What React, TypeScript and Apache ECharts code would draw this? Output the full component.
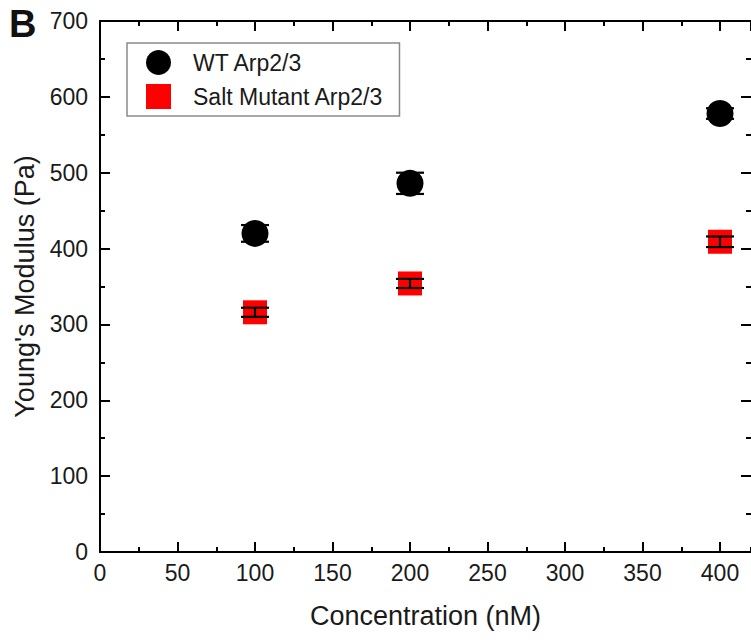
import React, { useEffect, useRef } from "react";
import * as echarts from "echarts";

const concentrations = [100, 200, 400];
const wtMean = [420, 486, 578];
const wtErr = [11, 14, 7];
const saltMean = [316, 354, 409];
const saltErr = [6, 6, 7];
const seriesNames = ["WT Arp2/3", "Salt Mutant Arp2/3"];

const FONT = "'Liberation Sans', Arial, Helvetica, sans-serif";
const TEXT = "#1a1a1a";

function errData(mean: number[], err: number[]) {
  return concentrations.map((c, i) => [c, mean[i], mean[i] - err[i], mean[i] + err[i]]);
}

function errorRender(params: any, api: any) {
  const x = api.value(0);
  const lo = api.coord([x, api.value(2)]);
  const hi = api.coord([x, api.value(3)]);
  const half = 14;
  const st = { stroke: "#000", lineWidth: 2.2 };
  return {
    type: "group",
    children: [
      { type: "line", shape: { x1: lo[0], y1: lo[1], x2: hi[0], y2: hi[1] }, style: st },
      { type: "line", shape: { x1: lo[0] - half, y1: lo[1], x2: lo[0] + half, y2: lo[1] }, style: st },
      { type: "line", shape: { x1: hi[0] - half, y1: hi[1], x2: hi[0] + half, y2: hi[1] }, style: st },
    ],
  };
}

export default function App() {
  const ref = useRef<HTMLDivElement>(null);
  useEffect(() => {
    if (!ref.current) return;
    const chart = echarts.init(ref.current, null, { renderer: "svg" });
    const axisLine = { show: true, onZero: false, lineStyle: { color: "#000", width: 2 } };
    const noLine = { show: false, onZero: false };
    const majorX = (pos: string, labels: boolean) => ({
      type: "value",
      position: pos,
      min: 0,
      max: 420,
      interval: 50,
      axisLine,
      axisTick: { show: true, inside: true, length: 10, lineStyle: { color: "#000", width: 2 } },
      axisLabel: labels
        ? { show: true, showMaxLabel: false, fontSize: 23, color: TEXT, fontFamily: FONT, margin: 9 }
        : { show: false },
      splitLine: { show: false },
      name: labels ? "Concentration (nM)" : "",
      nameLocation: "middle",
      nameGap: 50,
      nameTextStyle: { fontSize: 27, color: TEXT, fontFamily: FONT },
    });
    const minorX = (pos: string) => ({
      type: "value",
      position: pos,
      min: 0,
      max: 420,
      interval: 25,
      axisLine: noLine,
      axisTick: { show: true, inside: true, length: 5, lineStyle: { color: "#000", width: 2 } },
      axisLabel: { show: false },
      splitLine: { show: false },
    });
    const majorY = (pos: string, labels: boolean) => ({
      type: "value",
      position: pos,
      min: 0,
      max: 700,
      interval: 100,
      axisLine: labels ? axisLine : noLine,
      axisTick: { show: true, inside: true, length: 10, lineStyle: { color: "#000", width: 2 } },
      minorTick: { show: true, splitNumber: 2, length: 5, lineStyle: { color: "#000", width: 2 } },
      axisLabel: labels
        ? { show: true, fontSize: 23, color: TEXT, fontFamily: FONT, margin: 12 }
        : { show: false },
      splitLine: { show: false },
      minorSplitLine: { show: false },
      name: labels ? "Young's Modulus (Pa)" : "",
      nameLocation: "middle",
      nameGap: 58,
      nameTextStyle: { fontSize: 27, color: TEXT, fontFamily: FONT },
    });
    chart.setOption({
      animation: false,
      backgroundColor: "#fff",
      grid: { left: 100, right: 0, top: 21, bottom: 88, containLabel: false },
      xAxis: [majorX("bottom", true), minorX("bottom"), majorX("top", false), minorX("top")],
      yAxis: [majorY("left", true), majorY("right", false)],
      legend: {
        orient: "vertical",
        left: 127,
        top: 43,
        padding: [7, 16, 7, 19],
        itemGap: 9,
        itemWidth: 25,
        itemHeight: 25,
        borderColor: "#8a8a8a",
        borderWidth: 1.5,
        textStyle: { fontSize: 23, color: TEXT, fontFamily: FONT, padding: [0, 0, 0, 17] },
        data: [
          { name: seriesNames[0], icon: "circle" },
          { name: seriesNames[1], icon: "rect" },
        ],
      },
      graphic: [
        {
          type: "text",
          left: 9,
          top: 5,
          style: { text: "B", fontSize: 38, fontWeight: "bold", fill: "#111", fontFamily: FONT },
        },
      ],
      series: [
        {
          name: seriesNames[0],
          type: "scatter",
          xAxisIndex: 0,
          yAxisIndex: 0,
          symbol: "circle",
          symbolSize: 27,
          itemStyle: { color: "#000", opacity: 1 },
          data: concentrations.map((c, i) => [c, wtMean[i]]),
          z: 2,
        },
        {
          name: seriesNames[1],
          type: "scatter",
          xAxisIndex: 0,
          yAxisIndex: 0,
          symbol: "rect",
          symbolSize: 24,
          itemStyle: { color: "#ff0000", opacity: 1 },
          data: concentrations.map((c, i) => [c, saltMean[i]]),
          z: 2,
        },
        {
          name: seriesNames[0] + " error",
          type: "custom",
          xAxisIndex: 0,
          yAxisIndex: 0,
          renderItem: errorRender,
          encode: { x: 0, y: [1, 2, 3] },
          data: errData(wtMean, wtErr),
          z: 3,
        },
        {
          name: seriesNames[1] + " error",
          type: "custom",
          xAxisIndex: 0,
          yAxisIndex: 0,
          renderItem: errorRender,
          encode: { x: 0, y: [1, 2, 3] },
          data: errData(saltMean, saltErr),
          z: 3,
        },
      ],
    });
    return () => chart.dispose();
  }, []);
  return <div ref={ref} style={{ width: 751, height: 640, position: "absolute", left: 0, top: 0 }} />;
}
